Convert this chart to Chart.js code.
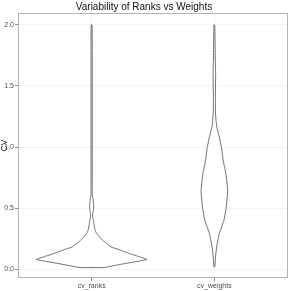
<!DOCTYPE html>
<html lang="en">
<head>
  <meta charset="UTF-8">
  <title>Variability of Ranks vs Weights</title>
  <script src="https://cdn.jsdelivr.net/npm/chart.js"></script>
  <style>
    body { margin: 0; background: #fff; }
    canvas { display: block; }
  </style>
</head>
<body>
  <canvas id="chart" width="294" height="291"></canvas>
  <script>
    const categories = ['cv_ranks', 'cv_weights'];
    const yTicks = [0, 0.5, 1, 1.5, 2];

    // density profile of each violin: value along y, relative width (1 = widest)
    const ranksY = [0.013, 0.03, 0.05, 0.065, 0.079, 0.10, 0.13, 0.16, 0.182, 0.21, 0.236, 0.27, 0.30,
      0.33, 0.36, 0.39, 0.42, 0.45, 0.48, 0.52, 0.56, 0.60, 0.70, 1.0, 1.5, 2.0];
    const ranksDensity = [0.23, 0.42, 0.66, 0.85, 1.0, 0.87, 0.67, 0.49, 0.35, 0.27, 0.20, 0.13, 0.08,
      0.057, 0.046, 0.036, 0.023, 0.018, 0.032, 0.036, 0.029, 0.014, 0.011, 0.011, 0.011, 0.009];

    const weightsY = [0.02, 0.10, 0.18, 0.29, 0.40, 0.506, 0.64, 0.78, 0.886, 0.994, 1.10, 1.17,
      1.27, 1.40, 1.60, 1.70, 1.85, 2.0];
    const weightsDensity = [0.009, 0.021, 0.041, 0.089, 0.173, 0.214, 0.241, 0.209, 0.161, 0.13,
      0.08, 0.041, 0.021, 0.018, 0.023, 0.018, 0.013, 0.007];

    const maxHalfWidth = 0.45;

    function outline(center, ys, dens) {
      const pts = [];
      for (let i = 0; i < ys.length; i++) pts.push({ x: center - dens[i] * maxHalfWidth, y: ys[i] });
      for (let i = ys.length - 1; i >= 0; i--) pts.push({ x: center + dens[i] * maxHalfWidth, y: ys[i] });
      pts.push(pts[0]);
      return pts;
    }

    const frame = {
      id: 'frame',
      afterDatasetsDraw(chart) {
        const a = chart.chartArea, ctx = chart.ctx;
        ctx.save();
        ctx.strokeStyle = '#b3b3b3';
        ctx.lineWidth = 1;
        ctx.strokeRect(a.left + 0.5, a.top + 0.5, a.right - a.left - 1, a.bottom - a.top - 1);
        ctx.restore();
      }
    };

    const violin = (data) => ({
      data,
      showLine: true,
      pointRadius: 0,
      borderColor: '#333',
      borderWidth: 0.7,
      backgroundColor: '#fff',
      fill: 'shape',
      tension: 0.15
    });

    Chart.defaults.font.family = '"Liberation Sans", Arial, sans-serif';

    new Chart(document.getElementById('chart'), {
      type: 'scatter',
      data: {
        datasets: [
          violin(outline(1, ranksY, ranksDensity)),
          violin(outline(2, weightsY, weightsDensity))
        ]
      },
      plugins: [frame],
      options: {
        responsive: false,
        animation: false,
        devicePixelRatio: 1,
        layout: { padding: { left: 0, right: 6, top: 0, bottom: 0 } },
        plugins: {
          legend: { display: false },
          tooltip: { enabled: false },
          title: {
            display: true,
            text: 'Variability of Ranks vs Weights',
            color: '#111',
            font: { size: 10, weight: 'normal' },
            padding: { top: 1, bottom: 0 }
          }
        },
        scales: {
          x: {
            type: 'linear',
            min: 0.4,
            max: 2.6,
            afterBuildTicks: (s) => { s.ticks = [1, 2].map(v => ({ value: v })); },
            afterFit: (s) => { s.height = 13; },
            ticks: {
              callback: (v) => categories[v - 1],
              color: '#4d4d4d',
              font: { size: 7 },
              padding: 1,
              maxRotation: 0
            },
            grid: { color: '#ebebeb', tickColor: '#333', tickLength: 3, lineWidth: 0.6 },
            border: { display: false }
          },
          y: {
            min: -0.073,
            max: 2.098,
            afterBuildTicks: (s) => { s.ticks = yTicks.map(v => ({ value: v })); },
            afterFit: (s) => { s.width = 18; },
            title: {
              display: true,
              text: 'CV',
              color: '#000',
              font: { size: 8.5 },
              padding: 0
            },
            ticks: {
              callback: (v) => v.toFixed(1),
              color: '#4d4d4d',
              font: { size: 7 },
              padding: 1
            },
            grid: { color: '#ebebeb', tickColor: '#333', tickLength: 3, lineWidth: 0.6 },
            border: { display: false }
          }
        }
      }
    });
  </script>
</body>
</html>
